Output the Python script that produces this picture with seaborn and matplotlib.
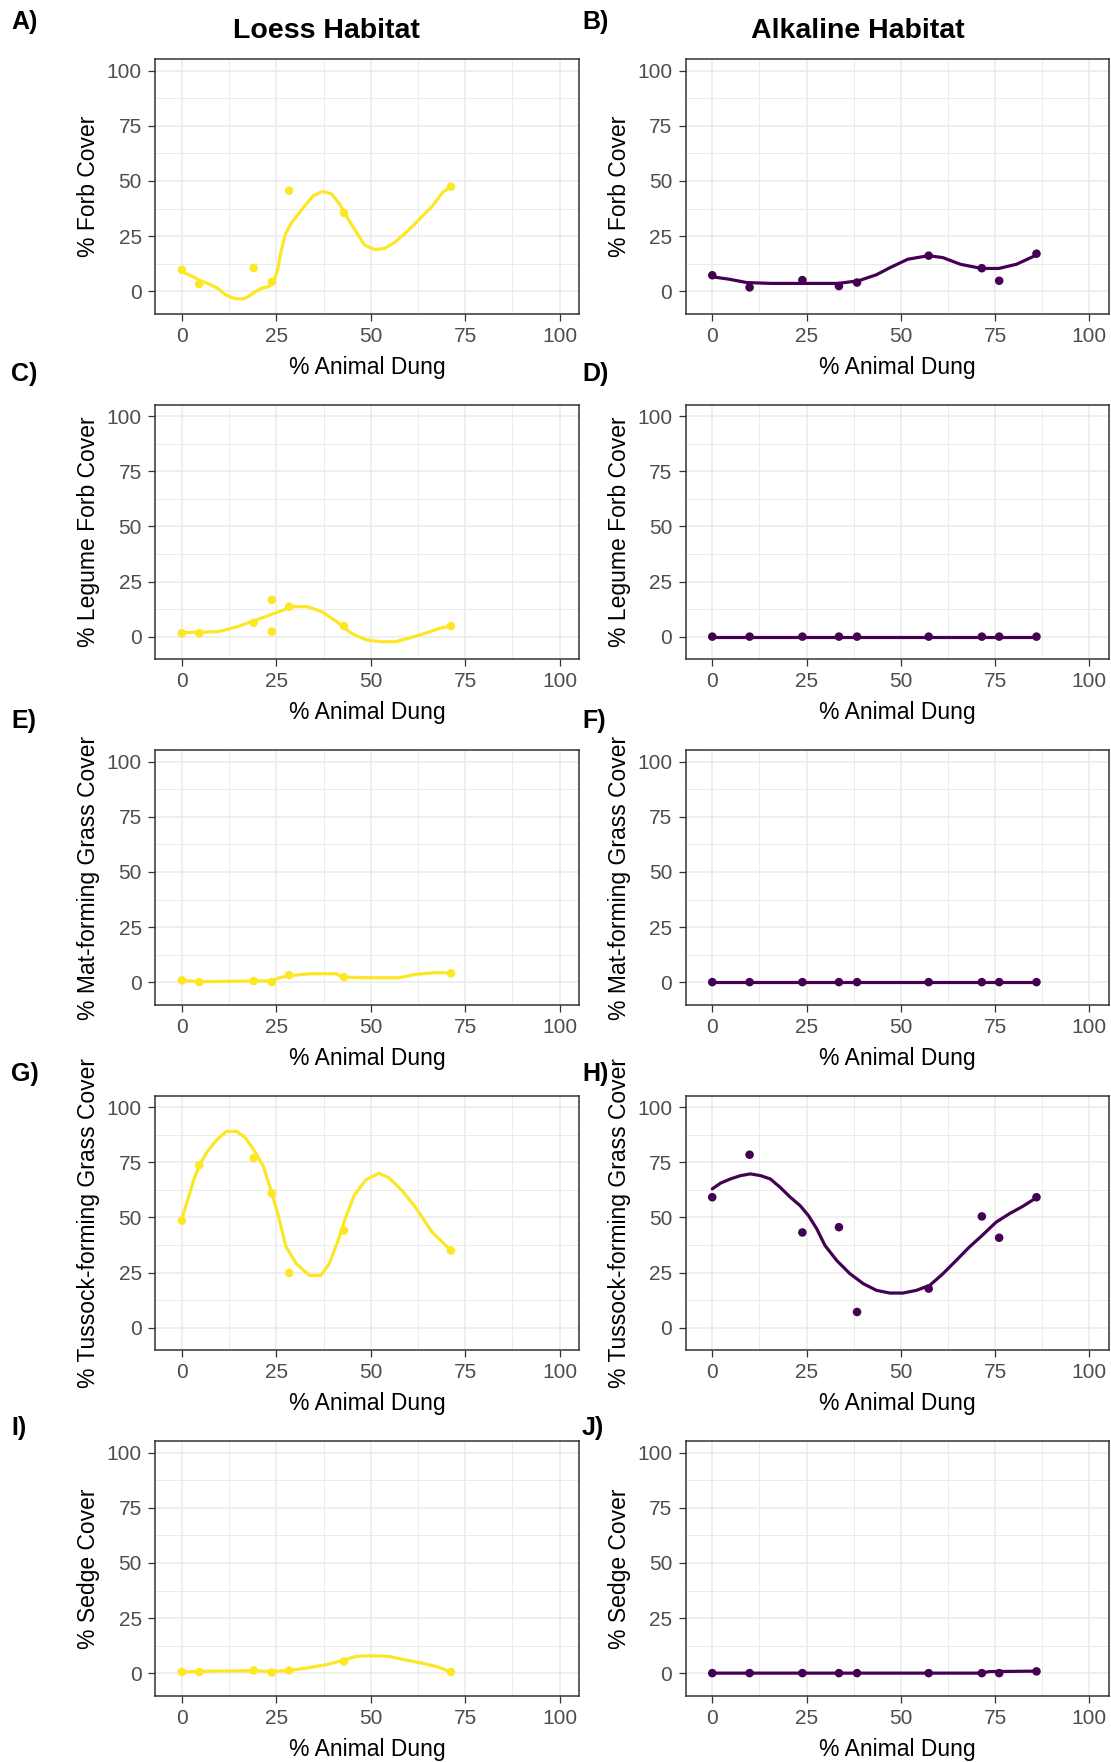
import matplotlib
matplotlib.use("Agg")
import matplotlib.pyplot as plt
import seaborn as sns
import pandas as pd
from matplotlib.ticker import MultipleLocator

# ---------------------------------------------------------------------------
# Site data: % animal dung at each sampling site
# ---------------------------------------------------------------------------
loess_dung = [0, 4.6, 19.0, 23.8, 28.4, 42.9, 71.2]
loess_dung_legume = [0, 4.6, 19.0, 23.8, 23.8, 28.4, 42.9, 71.2]
alkaline_dung = [0, 9.9, 23.9, 33.6, 38.4, 57.4, 71.5, 76.1, 86.0]

# Observed plant-group cover, Loess habitat
loess_forb = [9.7, 3.2, 10.5, 4.2, 45.6, 35.5, 47.4]
loess_legume = [1.5, 1.5, 6.3, 16.7, 2.3, 13.6, 4.8, 4.8]
loess_mat = [0.8, 0.0, 0.5, 0.0, 3.2, 2.3, 4.0]
loess_tussock = [48.6, 73.7, 76.9, 61.0, 24.8, 44.0, 35.0]
loess_sedge = [0.5, 0.5, 1.2, 0.3, 1.2, 5.3, 0.5]

# Observed plant-group cover, Alkaline habitat
alk_forb = [7.2, 1.7, 5.0, 2.3, 3.9, 16.1, 10.4, 4.7, 17.0]
alk_legume = [0, 0, 0, 0, 0, 0, 0, 0, 0]
alk_mat = [0, 0, 0, 0, 0, 0, 0, 0, 0]
alk_tussock = [59.2, 78.5, 43.2, 45.6, 7.1, 17.7, 50.5, 40.8, 59.2]
alk_sedge = [0, 0, 0, 0, 0, 0, 0, 0, 0.8]

# Smoothed trends (loess fits)
fit_loess_forb_x = [0, 2.4, 4.6, 7.2, 9.4, 11.6, 13.8, 16.0, 17.7, 19.5, 21.2, 23.0, 24.3,
                    25.4, 26.1, 27.4, 29.1, 32.2, 34.8, 37.3, 39.6, 41.8, 44.0, 46.2, 48.4,
                    51.1, 53.7, 56.3, 59.4, 62.9, 66.4, 69.0, 71.2]
fit_loess_forb_y = [8.9, 7.0, 5.0, 3.2, 1.4, -1.7, -3.3, -3.6, -2.4, -0.2, 1.4, 2.0, 4.2,
                    10.0, 16.8, 25.9, 31.2, 38.0, 43.3, 45.3, 44.1, 39.5, 32.7, 26.7, 20.9,
                    18.8, 19.4, 22.1, 26.7, 32.7, 38.8, 44.8, 47.4]
fit_loess_legume_x = [0, 5, 9.8, 14.7, 19.6, 24.5, 29.3, 33.2, 37.1, 41.0, 44.9, 48.8,
                      52.7, 56.6, 60.5, 64.4, 68.3, 71.4]
fit_loess_legume_y = [1.8, 2.0, 2.3, 4.5, 7.5, 10.6, 13.6, 13.6, 11.3, 6.8, 1.5, -1.5,
                      -2.3, -2.3, -0.5, 1.5, 3.8, 4.8]
fit_loess_mat_x = [0, 4.5, 18.9, 23.6, 25.9, 28.2, 33.8, 40.8, 42.5, 48.7, 57.5, 61.8, 67.1, 71.1]
fit_loess_mat_y = [0.8, 0.2, 0.5, 0.5, 2.0, 2.8, 3.8, 3.8, 2.3, 2.0, 2.0, 3.5, 4.3, 4.3]
fit_loess_tussock_x = [0, 1.5, 3.1, 4.5, 6.6, 9.2, 11.8, 14.5, 16.7, 18.9, 21.5, 23.6, 25.4,
                       27.6, 30.3, 33.8, 36.8, 39.0, 41.2, 43.4, 45.6, 48.7, 52.2, 54.8,
                       58.3, 61.8, 66.2, 71.1]
fit_loess_tussock_y = [49.4, 57.7, 66.8, 73.1, 79.6, 85.2, 89.1, 89.1, 86.4, 81.1, 73.6, 62.2,
                       51.7, 36.6, 29.0, 23.7, 23.7, 29.0, 38.8, 50.2, 60.0, 67.1, 70.1,
                       68.0, 62.2, 54.7, 43.4, 35.3]
fit_loess_sedge_x = [0, 4.5, 18.9, 23.6, 28.2, 32.9, 38.2, 42.5, 46.1, 49.6, 54.8, 58.3,
                     63.6, 68.0, 71.1]
fit_loess_sedge_y = [0.5, 0.8, 1.1, 0.8, 1.1, 2.3, 3.8, 5.7, 7.6, 7.9, 7.6, 6.3, 4.5, 2.7, 0.5]

fit_alk_forb_x = [0, 4.5, 9.1, 15.6, 24.9, 33.3, 38.8, 43.5, 47.2, 51.9, 57.4, 61.2, 65.8,
                  71.4, 76.0, 80.7, 86.0]
fit_alk_forb_y = [6.5, 5.4, 3.9, 3.5, 3.5, 3.5, 4.7, 7.4, 10.7, 14.5, 16.1, 15.2, 12.2,
                  10.3, 10.3, 12.2, 16.4]
fit_alk_legume_x = [0, 86.0]
fit_alk_legume_y = [0, 0]
fit_alk_mat_x = [0, 86.0]
fit_alk_mat_y = [0, 0]
fit_alk_tussock_x = [0, 2.2, 4.8, 7.5, 10.1, 12.8, 15.4, 18.0, 20.7, 23.3, 25.5, 27.7, 29.9,
                     33.0, 36.5, 40.1, 43.6, 47.1, 50.6, 54.1, 57.7, 61.2, 64.7, 68.2, 71.3,
                     75.3, 78.8, 82.3, 85.9]
fit_alk_tussock_y = [63.0, 65.6, 67.5, 69.0, 69.8, 69.0, 67.5, 63.7, 59.2, 55.4, 50.9, 44.9,
                     37.3, 30.5, 24.5, 19.9, 16.9, 15.7, 15.7, 16.9, 19.2, 24.5, 30.5, 36.6,
                     41.4, 47.9, 51.7, 55.0, 58.9]
fit_alk_sedge_x = [0, 71.4, 73.5, 86.0]
fit_alk_sedge_y = [0, 0, 0.7, 0.9]

ylabels = ["% Forb Cover", "% Legume Forb Cover", "% Mat-forming Grass Cover",
           "% Tussock-forming Grass Cover", "% Sedge Cover"]
panel_tags = [("A)", "B)"), ("C)", "D)"), ("E)", "F)"), ("G)", "H)"), ("I)", "J)")]
column_titles = ["Loess Habitat", "Alkaline Habitat"]

YELLOW = "#FDE725"
PURPLE = "#440154"

sns.set_theme(style="whitegrid")
plt.rcParams["font.family"] = ["Liberation Sans", "DejaVu Sans"]

W, H = 1111, 1762
fig = plt.figure(figsize=(W / 100, H / 100), dpi=100)

col_left = [155, 685.5]
col_width = [424, 423]
row_top0, row_pitch, panel_h = 59.3, 345.5, 254.4
tag_y = [21.5, 374, 721, 1074, 1428]

loess_sets = [
    (loess_dung, loess_forb, fit_loess_forb_x, fit_loess_forb_y),
    (loess_dung_legume, loess_legume, fit_loess_legume_x, fit_loess_legume_y),
    (loess_dung, loess_mat, fit_loess_mat_x, fit_loess_mat_y),
    (loess_dung, loess_tussock, fit_loess_tussock_x, fit_loess_tussock_y),
    (loess_dung, loess_sedge, fit_loess_sedge_x, fit_loess_sedge_y),
]
alk_sets = [
    (alkaline_dung, alk_forb, fit_alk_forb_x, fit_alk_forb_y),
    (alkaline_dung, alk_legume, fit_alk_legume_x, fit_alk_legume_y),
    (alkaline_dung, alk_mat, fit_alk_mat_x, fit_alk_mat_y),
    (alkaline_dung, alk_tussock, fit_alk_tussock_x, fit_alk_tussock_y),
    (alkaline_dung, alk_sedge, fit_alk_sedge_x, fit_alk_sedge_y),
]


def style_axes(ax, ylabel):
    ax.set_xlim(-7.1, 105.1)
    ax.set_ylim(-10.25, 105.25)
    ax.xaxis.set_major_locator(MultipleLocator(25))
    ax.yaxis.set_major_locator(MultipleLocator(25))
    ax.xaxis.set_minor_locator(MultipleLocator(12.5))
    ax.yaxis.set_minor_locator(MultipleLocator(12.5))
    ax.set_facecolor("white")
    ax.grid(which="major", color="#EBEBEB", lw=1.1)
    ax.grid(which="minor", color="#EBEBEB", lw=0.7)
    ax.set_axisbelow(True)
    for sp in ax.spines.values():
        sp.set_visible(True)
        sp.set_color("#333333")
        sp.set_linewidth(1.1)
    ax.tick_params(which="major", length=5, width=0.9, color="#333333",
                   labelcolor="#4D4D4D", labelsize=15, pad=4.5,
                   bottom=True, left=True)
    ax.tick_params(which="minor", length=0)
    ax.set_xlabel("% Animal Dung", fontsize=16.5, color="black")
    ax.set_ylabel(ylabel, fontsize=16.5, color="black")
    ax.xaxis.set_label_coords(0.5, -0.165)
    ax.yaxis.set_label_coords(-0.129, 0.5)


for r in range(5):
    top = row_top0 + r * row_pitch
    for c, (sets, color) in enumerate([(loess_sets, YELLOW), (alk_sets, PURPLE)]):
        ax = fig.add_axes([col_left[c] / W, 1 - (top + panel_h) / H,
                           col_width[c] / W, panel_h / H])
        px, py, fx, fy = sets[r]
        pts = pd.DataFrame({"dung": px, "cover": py})
        fit = pd.DataFrame({"dung": fx, "cover": fy})
        sns.lineplot(data=fit, x="dung", y="cover", ax=ax, color=color, lw=2.3,
                     estimator=None, sort=False)
        sns.scatterplot(data=pts, x="dung", y="cover", ax=ax, color=color, s=38,
                        edgecolor="none", zorder=3)
        style_axes(ax, ylabels[r])
        x_tag = 11 if c == 0 else 582
        fig.text(x_tag / W, 1 - tag_y[r] / H, panel_tags[r][c], ha="left", va="center",
                 fontsize=18, fontweight="bold", color="black")

fig.text(326 / W, 1 - 31 / H, column_titles[0], ha="center", va="center",
         fontsize=20.5, fontweight="bold", color="black")
fig.text(857.7 / W, 1 - 31 / H, column_titles[1], ha="center", va="center",
         fontsize=20.5, fontweight="bold", color="black")

fig.savefig("out.png", dpi=100, facecolor="white")
